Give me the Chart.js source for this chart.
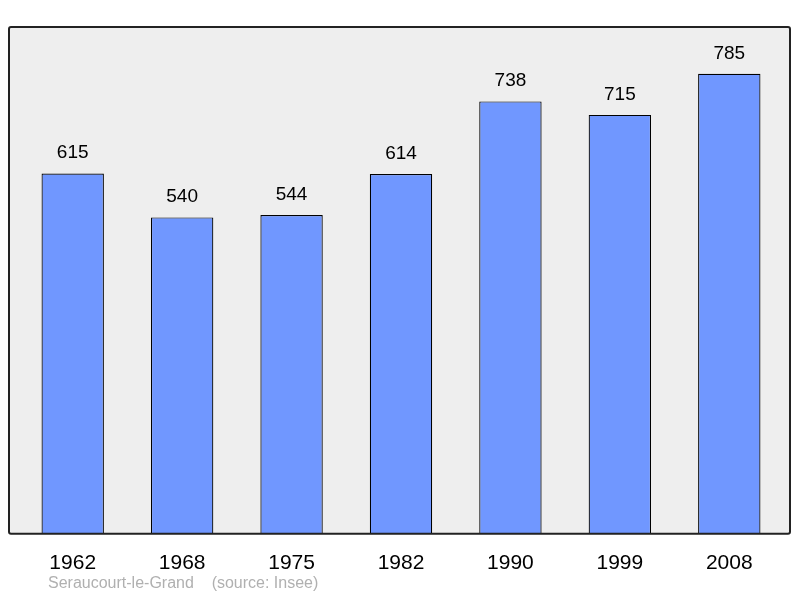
<!DOCTYPE html>
<html><head><meta charset="utf-8">
<script src="https://cdn.jsdelivr.net/npm/chart.js@4"></script>
<style>body{margin:0;background:#fff}</style>
</head><body>
<div style="width:800px;height:598px"><canvas id="c" width="800" height="598"></canvas></div>
<script>
const years = ["1962","1968","1975","1982","1990","1999","2008"];
const population = [615,540,544,614,738,715,785];
const sourceText = "Seraucourt-le-Grand    (source: Insee)";

const deco = {
  id:'deco',
  beforeDraw(ch){
    const {ctx,chartArea:a}=ch;
    ctx.save();ctx.fillStyle='#eeeeee';ctx.fillRect(a.left-9,a.top,a.right-a.left+15,a.bottom-a.top);ctx.restore();
  },
  afterDatasetsDraw(ch){
    const {ctx,chartArea:a}=ch;
    ctx.save();
    ctx.strokeStyle='#222';ctx.lineWidth=2;
    ctx.beginPath();ctx.roundRect(a.left-9,a.top,a.right-a.left+15,a.bottom-a.top,2);ctx.stroke();
    ctx.fillStyle='#000';ctx.font='19px "Liberation Sans", Arial, sans-serif';ctx.textAlign='center';ctx.textBaseline='bottom';
    ch.getDatasetMeta(0).data.forEach((b,i)=>ctx.fillText(String(population[i]),b.x,b.y-11));
    ctx.fillStyle='#b0b0b0';ctx.font='16px "Liberation Sans", Arial, sans-serif';ctx.textAlign='left';ctx.textBaseline='middle';
    ctx.fillText(sourceText,48,584);
    ctx.restore();
  }
};

new Chart(document.getElementById('c'),{
  type:'bar',
  data:{labels:years,datasets:[{data:population,backgroundColor:'#7097ff',borderColor:'#000',borderWidth:1.2,categoryPercentage:1,barPercentage:0.57}]},
  options:{
    responsive:false,animation:false,devicePixelRatio:1,
    layout:{padding:{left:18,right:16,top:27,bottom:13}},
    plugins:{legend:{display:false},tooltip:{enabled:false}},
    scales:{
      y:{display:false,min:0,max:865},
      x:{grid:{display:false},border:{display:false},ticks:{color:'#000',padding:9,font:{size:21,family:'"Liberation Sans", Arial, sans-serif'}}}
    }
  },
  plugins:[deco]
});
</script>
</body></html>
